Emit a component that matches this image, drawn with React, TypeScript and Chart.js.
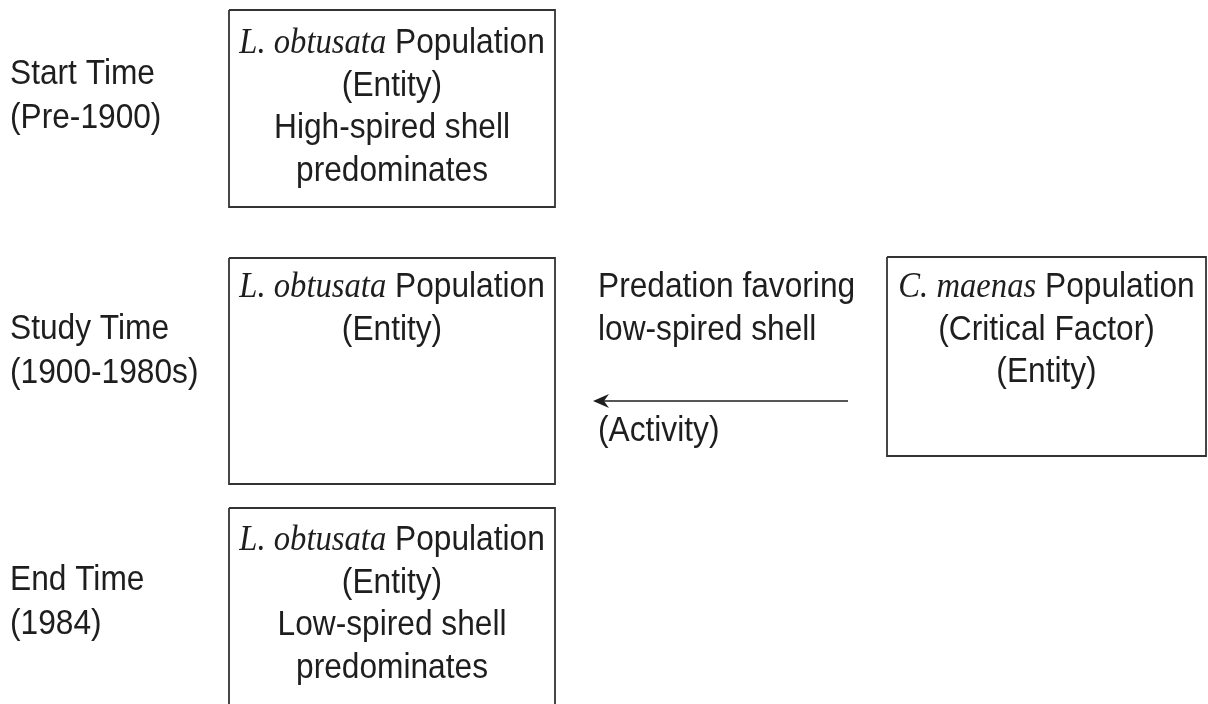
import React, { useEffect, useRef } from "react";
import { Chart, registerables } from "chart.js";

Chart.register(...registerables);

// ---- Diagram data (in diagram units: x 0..1208, y 0..704 top-down) ----
const boxNames = ["start", "study", "crab", "end"];
const boxLeft = [229, 229, 887, 229];
const boxRight = [555, 555, 1206, 555];
const boxTop = [10, 258, 257, 508];
const boxBottom = [207, 484, 456, 730];

type Seg = { t: string; i?: boolean };
const boxLines: Seg[][][] = [
  [
    [{ t: "L. obtusata", i: true }, { t: " Population" }],
    [{ t: "(Entity)" }],
    [{ t: "High-spired shell" }],
    [{ t: "predominates" }],
  ],
  [
    [{ t: "L. obtusata", i: true }, { t: " Population" }],
    [{ t: "(Entity)" }],
  ],
  [
    [{ t: "C. maenas", i: true }, { t: " Population" }],
    [{ t: "(Critical Factor)" }],
    [{ t: "(Entity)" }],
  ],
  [
    [{ t: "L. obtusata", i: true }, { t: " Population" }],
    [{ t: "(Entity)" }],
    [{ t: "Low-spired shell" }],
    [{ t: "predominates" }],
  ],
];
const boxFirstBaseline = [53, 297, 297, 550];

const timeLabels = [
  ["Start Time", "(Pre-1900)"],
  ["Study Time", "(1900-1980s)"],
  ["End Time", "(1984)"],
];
const timeLabelX = [10, 10, 10];
const timeLabelBaseline = [84, 339, 590];

const activityLabels = ["Predation favoring", "low-spired shell"];
const activityX = 598;
const activityBaseline = 297;
const activityTag = "(Activity)";
const activityTagBaseline = 441;

const arrowFrom = { x: 848, y: 401 };
const arrowTo = { x: 593, y: 401 };

const LINE_H = 42.5;
const LABEL_LINE_H = 43.5;
const SANS = "'Liberation Sans', Arial, sans-serif";
const SERIF = "'Liberation Serif', 'Times New Roman', serif";
const FS = 32;
const SX = 0.99;
const SY = 1.1;
const TEXT_COLOR = "#1e1e1e";
const LINE_COLOR = "#333333";

const diagramPlugin = {
  id: "diagramText",
  afterDatasetsDraw(chart: any) {
    const ctx: CanvasRenderingContext2D = chart.ctx;
    const xs = chart.scales.x;
    const ys = chart.scales.y;
    const px = (v: number) => xs.getPixelForValue(v);
    const py = (v: number) => ys.getPixelForValue(v);
    ctx.save();
    ctx.fillStyle = TEXT_COLOR;
    ctx.textBaseline = "alphabetic";
    ctx.textAlign = "left";

    const fontFor = (s: Seg) =>
      s.i ? `italic ${FS + 1}px ${SERIF}` : `${FS}px ${SANS}`;

    const put = (t: string, x: number, y: number) => {
      ctx.save();
      ctx.translate(x, y);
      ctx.scale(SX, SY);
      ctx.fillText(t, 0, 0);
      ctx.restore();
    };

    const drawCentered = (segs: Seg[], cx: number, y: number) => {
      let w = 0;
      for (const s of segs) {
        ctx.font = fontFor(s);
        w += ctx.measureText(s.t).width * SX;
      }
      let x = cx - w / 2;
      for (const s of segs) {
        ctx.font = fontFor(s);
        put(s.t, x, y);
        x += ctx.measureText(s.t).width * SX;
      }
    };

    boxLines.forEach((lines, bi) => {
      const cx = px((boxLeft[bi] + Math.min(boxRight[bi], 1208)) / 2);
      lines.forEach((segs, li) => {
        drawCentered(segs, cx, py(boxFirstBaseline[bi] + li * LINE_H));
      });
    });

    ctx.font = `${FS}px ${SANS}`;
    timeLabels.forEach((lines, i) => {
      lines.forEach((t, li) => {
        put(t, px(timeLabelX[i]), py(timeLabelBaseline[i] + li * LABEL_LINE_H));
      });
    });
    activityLabels.forEach((t, li) => {
      put(t, px(activityX), py(activityBaseline + li * LINE_H));
    });
    put(activityTag, px(activityX), py(activityTagBaseline));

    // arrowhead
    const ax = px(arrowTo.x);
    const ay = py(arrowTo.y);
    ctx.fillStyle = "#1e1e1e";
    ctx.beginPath();
    ctx.moveTo(ax, ay);
    ctx.lineTo(ax + 16, ay - 7);
    ctx.lineTo(ax + 11, ay);
    ctx.lineTo(ax + 16, ay + 7);
    ctx.closePath();
    ctx.fill();
    ctx.restore();
  },
};

export default function App() {
  const ref = useRef<HTMLCanvasElement | null>(null);
  useEffect(() => {
    document.body.style.margin = "0";
    document.body.style.background = "#ffffff";
    if (!ref.current) return;
    const boxDatasets = boxNames.map((name, i) => ({
      label: name,
      data: [
        { x: boxLeft[i], y: boxTop[i] },
        { x: boxRight[i], y: boxTop[i] },
        { x: boxRight[i], y: boxBottom[i] },
        { x: boxLeft[i], y: boxBottom[i] },
        { x: boxLeft[i], y: boxTop[i] },
      ],
      showLine: true,
      borderColor: LINE_COLOR,
      borderWidth: 1.8,
      pointRadius: 0,
      fill: false,
      tension: 0,
    }));
    const arrowDataset = {
      label: "arrow",
      data: [
        { x: arrowFrom.x, y: arrowFrom.y },
        { x: arrowTo.x + 10, y: arrowTo.y },
      ],
      showLine: true,
      borderColor: "#1e1e1e",
      borderWidth: 1.6,
      pointRadius: 0,
      fill: false,
    };
    const chart = new Chart(ref.current, {
      type: "scatter",
      data: { datasets: [...boxDatasets, arrowDataset] as any },
      options: {
        animation: false,
        responsive: false,
        maintainAspectRatio: false,
        layout: { padding: 0 },
        plugins: { legend: { display: false }, tooltip: { enabled: false } },
        scales: {
          x: { type: "linear", min: 0, max: 1208, display: false },
          y: { type: "linear", min: 0, max: 704, reverse: true, display: false },
        },
        events: [],
      },
      plugins: [diagramPlugin],
    });
    return () => chart.destroy();
  }, []);
  return (
    <div style={{ width: 1208, height: 704, background: "#fff" }}>
      <canvas ref={ref} width={1208} height={704} style={{ display: "block" }} />
    </div>
  );
}
